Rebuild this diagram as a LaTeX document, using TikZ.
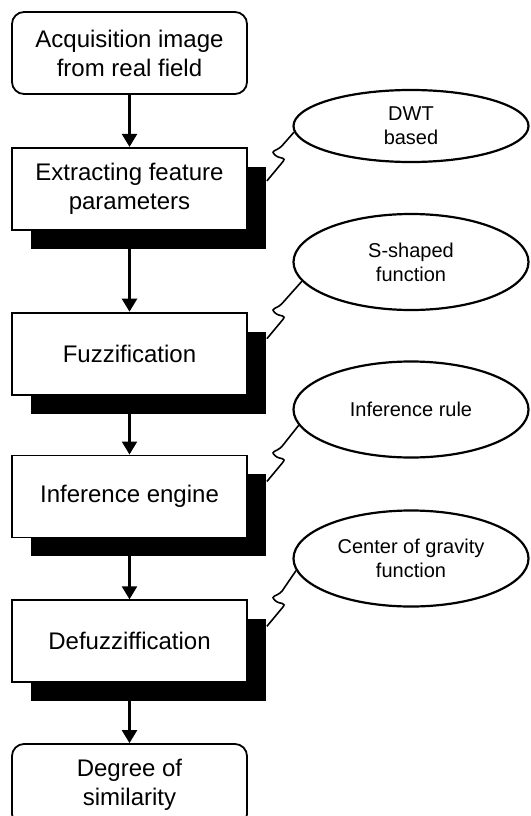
\documentclass[tikz,border=0pt]{standalone}
\usepackage{fontspec}
\setmainfont{Liberation Sans}
\usepackage{tikz}
\usetikzlibrary{positioning, shapes, shadows, arrows.meta}

\tikzset{
  stage/.style={draw, line width=1.8pt, fill=white, minimum width=235pt, minimum height=82pt,
    align=center, font=\fontsize{24}{29}\selectfont,
    drop shadow={shadow xshift=19pt, shadow yshift=-19pt, fill=black, opacity=1}},
  io/.style={draw, line width=1.8pt, rounded corners=12pt, minimum width=235pt, minimum height=82pt,
    align=center, font=\fontsize{24}{29}\selectfont},
  note/.style={ellipse, draw, line width=2.2pt, minimum width=235pt, minimum height=96pt,
    align=center, font=\fontsize{20}{24}\selectfont},
  flow/.style={line width=2.4pt, -{Triangle[width=15pt,length=13pt]}},
  link/.style={line width=1.6pt}
}

\begin{document}
\begin{tikzpicture}[x=1pt, y=1pt]
\useasboundingbox (0,0) rectangle (530,-816);

\node[io] (acq) at (129.5,-53) {Acquisition image\\from real field};
\node[stage, below=52pt of acq] (ext) {Extracting feature\\parameters};
\node[stage, below=81pt of ext] (fuz) {Fuzzification};
\node[stage, below=59pt of fuz] (inf) {Inference engine};
\node[stage, below=61pt of inf] (dfz) {Defuzziffication};
\node[io, below=60pt of dfz] (deg) {Degree of\\similarity};

\node[note, minimum height=72pt] (dwt) at (411,-126) {DWT\\based};
\node[note] (sfn) at (411,-262) {S-shaped\\function};
\node[note] (rule) at (411,-409.5) {Inference rule};
\node[note] (cog) at (411,-558.5) {Center of gravity\\function};

\draw[flow] (acq) -- (ext);
\draw[flow] (ext) -- (fuz);
\draw[flow] (fuz) -- (inf);
\draw[flow] (inf) -- (dfz);
\draw[flow] (dfz) -- (deg);

\draw[link] ([xshift=19pt,yshift=-34pt]ext.north east) -- ++(15,18)
  .. controls +(6,7) and +(5,-5) .. ++(-7,8)
  .. controls +(-5,5) and +(-6,-6) .. ++(7,9) -- (dwt.183);
\draw[link] ([xshift=19pt,yshift=-27pt]fuz.north east) -- ++(15,18)
  .. controls +(6,7) and +(5,-5) .. ++(-7,8)
  .. controls +(-5,5) and +(-6,-6) .. ++(7,9) -- (sfn.190);
\draw[link] ([xshift=19pt,yshift=-27pt]inf.north east) -- ++(15,18)
  .. controls +(6,7) and +(5,-5) .. ++(-7,8)
  .. controls +(-5,5) and +(-6,-6) .. ++(7,9) -- (rule.188);
\draw[link] ([xshift=19pt,yshift=-27pt]dfz.north east) -- ++(15,18)
  .. controls +(6,7) and +(5,-5) .. ++(-7,8)
  .. controls +(-5,5) and +(-6,-6) .. ++(7,9) -- (cog.186);
\end{tikzpicture}
\end{document}
